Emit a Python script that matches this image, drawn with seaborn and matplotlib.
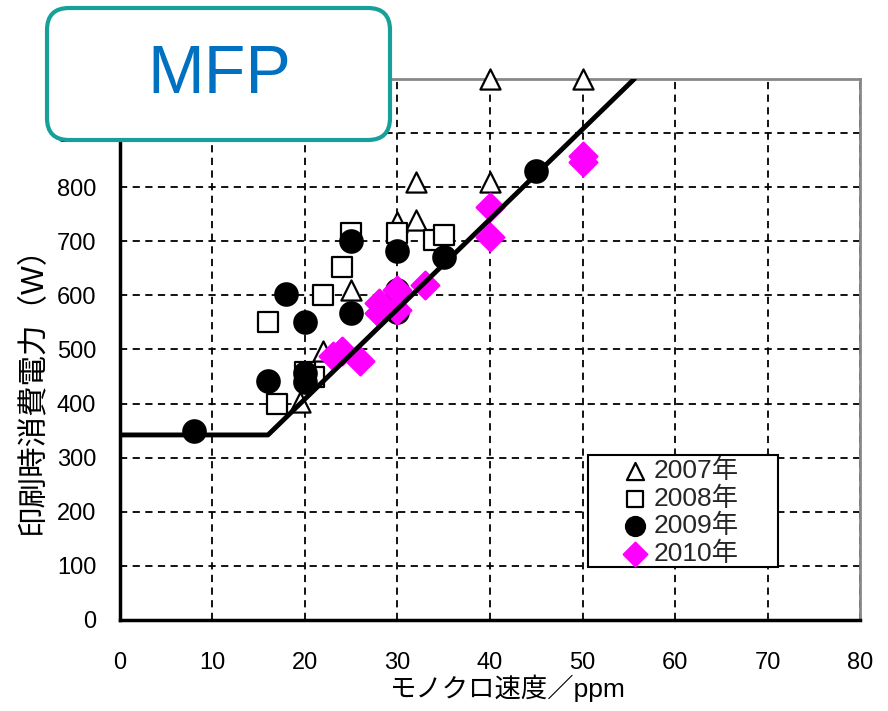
"""
Print power consumption vs. monochrome speed for MFPs, 2007-2010.
"""

import matplotlib
matplotlib.use('Agg')
import matplotlib.pyplot as plt
from matplotlib.patches import FancyBboxPatch, Rectangle
import seaborn as sns
import pandas as pd

# data (speed in ppm, power in W)
speed_2007 = [40, 50, 32, 40, 32, 30, 25, 22, 19.5]
power_2007 = [1000, 1000, 810, 810, 740, 735, 610, 497, 403]

speed_2008 = [25, 30, 34, 35, 24, 22, 16, 20, 21, 17]
power_2008 = [715, 715, 703, 712, 653, 600, 551, 458, 450, 400]

speed_2009 = [8, 16, 18, 20, 20, 20, 25, 25, 30, 30, 30, 35, 45]
power_2009 = [350, 442, 603, 551, 457, 440, 700, 567, 682, 610, 570, 671, 830]

speed_2010 = [23, 24, 26, 28, 28, 30, 30, 33, 40, 40, 50, 50]
power_2010 = [487, 497, 478, 586, 567, 610, 573, 620, 763, 708, 858, 846]

# fitted trend line (flat, then rising)
trend_speed = [0, 16, 55.6]
trend_power = [342, 342, 1000]

year_labels = ["2007年", "2008年", "2009年", "2010年"]
x_ticks = list(range(0, 81, 10))
y_ticks = list(range(0, 1001, 100))

sns.set_theme(style="white")
plt.rcParams['font.family'] = ['Liberation Sans', 'Noto Sans CJK JP']

fig = plt.figure(figsize=(8.88, 7.11), dpi=100)
ax = fig.add_axes([0.1351, 0.128, 0.8334, 0.761])

# marker styles for each year
series = [
    (speed_2007, power_2007, "^", "white", "black", 210),
    (speed_2008, power_2008, "s", "white", "black", 195),
    (speed_2009, power_2009, "o", "black", "black", 260),
    (speed_2010, power_2010, "D", "#ff00ff", "#ff00ff", 200),
]

for (xs, ys, marker, face, edge, size), label in zip(series, year_labels):
    df = pd.DataFrame({"speed": xs, "power": ys})
    sns.scatterplot(data=df, x="speed", y="power", marker=marker, s=size,
                    color=face, edgecolor=edge, linewidth=1.6, label=label,
                    ax=ax, zorder=3, clip_on=False, legend=False)

sns.lineplot(x=trend_speed, y=trend_power, color="black", lw=3.5, ax=ax, zorder=4)

ax.set_xlim(0, 80)
ax.set_ylim(0, 1000)
ax.set_xticks(x_ticks)
ax.set_yticks(y_ticks)
ax.tick_params(axis="both", length=0, labelsize=17, colors="black")
ax.tick_params(axis="y", pad=17)
ax.tick_params(axis="x", pad=23)

ax.grid(True, color="black", linestyle=(0, (4, 3)), lw=1.3)
ax.set_axisbelow(True)

for side in ["left", "bottom"]:
    ax.spines[side].set_color("black")
    ax.spines[side].set_linewidth(2.5)
for side in ["top", "right"]:
    ax.spines[side].set_color("#888888")
    ax.spines[side].set_linewidth(2)

ax.set_xlabel("モノクロ速度／ppm", fontsize=19, color="black")
ax.set_ylabel("印刷時消費電力（W）", fontsize=22, color="black")
ax.xaxis.set_label_coords(0.524, -0.100)
ax.yaxis.set_label_coords(-0.097, 0.44)

# legend box (white panel) with a frameless legend on top
ax.add_patch(Rectangle((0.632, 0.098), 0.257, 0.207, transform=ax.transAxes,
                       facecolor="white", edgecolor="black", lw=1.5, zorder=4.5))
handles, labels = ax.get_legend_handles_labels()
leg = ax.legend(handles, labels, loc="upper left", bbox_to_anchor=(0.675, 0.298),
                frameon=False, fontsize=19, borderpad=0, borderaxespad=0,
                handlelength=1.2, handletextpad=0.1, labelspacing=0.12,
                markerscale=0.85)
leg.set_zorder(6)

# "MFP" title box over the top left corner
box = FancyBboxPatch((0.47, 5.71), 3.43, 1.32,
                     boxstyle="round,pad=0,rounding_size=0.22",
                     transform=fig.dpi_scale_trans, facecolor="white",
                     edgecolor="#17a09a", lw=3, zorder=10)
fig.add_artist(box)
fig.text(2.19, 6.36, "MFP", transform=fig.dpi_scale_trans, fontsize=49,
         color="#0070c0", ha="center", va="center", zorder=11)

fig.savefig("out.png", dpi=100)
plt.close(fig)
